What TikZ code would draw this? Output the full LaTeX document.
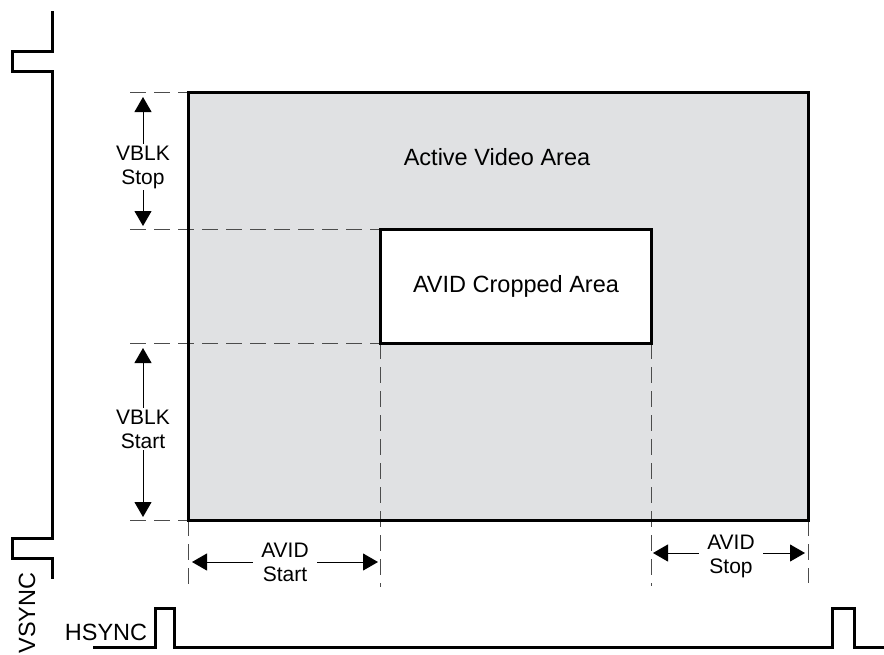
\documentclass[tikz,border=0pt]{standalone}
\usepackage{fontspec}
\setmainfont{Liberation Sans}
\usetikzlibrary{arrows.meta,positioning}
\definecolor{areagray}{RGB}{224,225,227}
\begin{document}
\begin{tikzpicture}[x=0.5pt,y=-0.5pt,
        frame/.style={line width=1.5pt},
        wave/.style={line width=1.5pt},
        extline/.style={black!70,line width=0.5pt,dash pattern=on 8pt off 4pt},
        dimline/.style={line width=0.5pt,{Triangle[length=7.5pt,width=8.5pt]}-{Triangle[length=7.5pt,width=8.5pt]}},
        dimlabel/.style={fill=white,inner xsep=4pt,inner ysep=1pt,align=center,font=\fontsize{10.5}{12}\selectfont},
        arealabel/.style={inner sep=0pt,anchor=base,font=\fontsize{11.75}{14}\selectfont}]
    \useasboundingbox (0,0) rectangle (884,654);

    % corners of the two areas
    \coordinate (av-nw) at (188,92);
    \coordinate (av-ne) at (808,92);
    \coordinate (av-sw) at (188,520);
    \coordinate (av-se) at (808,520);
    \coordinate (cr-nw) at (380,229);
    \coordinate (cr-sw) at (380,343);
    \coordinate (cr-se) at (651,343);

    % free ends of the extension lines
    \coordinate (e1) at (130,92);
    \coordinate (e2) at (130,229);
    \coordinate (e3) at (130,343);
    \coordinate (e4) at (130,520);
    \coordinate (b1) at (188,585);
    \coordinate (b2) at (380,587);
    \coordinate (b3) at (651,586);
    \coordinate (b4) at (808,583);

    % arrow tips
    \coordinate (vs-t) at (143,97);
    \coordinate (vs-b) at (143,226);
    \coordinate (vt-t) at (143,348);
    \coordinate (vt-b) at (143,517);
    \coordinate (as-l) at (192,562);
    \coordinate (as-r) at (378,562);
    \coordinate (ap-l) at (653,553);
    \coordinate (ap-r) at (805,553);

    \fill[areagray] (av-nw) rectangle (av-se);
    \fill[white] (cr-nw) rectangle (cr-se);

    \draw[extline] (e1) -- (av-nw);
    \draw[extline] (e2) -- (cr-nw);
    \draw[extline] (e3) -- (cr-sw);
    \draw[extline] (e4) -- (av-sw);
    \draw[extline] (av-sw) -- (b1);
    \draw[extline] (cr-sw) -- (b2);
    \draw[extline] (cr-se) -- (b3);
    \draw[extline] (av-se) -- (b4);

    \draw[frame] (av-nw) rectangle (av-se);
    \draw[frame] (cr-nw) rectangle (cr-se);

    \node[arealabel] (active) at (497,165) {Active Video Area};
    \node[arealabel] (cropped) at (516,292) {AVID Cropped Area};

    \draw[dimline] (vs-t) -- (vs-b);
    \draw[dimline] (vt-t) -- (vt-b);
    \draw[dimline] (as-l) -- (as-r);
    \draw[dimline] (ap-l) -- (ap-r);
    \node[dimlabel] (vblkstop) at (143,167) {VBLK\\Stop};
    \node[dimlabel] (vblkstart) at (143,429) {VBLK\\Start};
    \node[dimlabel] (avidstart) at (285,562) {AVID\\Start};
    \node[dimlabel] (avidstop) at (731,556) {AVID\\Stop};

    % sync waveforms
    \draw[wave] (52,11) -- (52,51) -- (12,51) -- (12,71) -- (52,71)
        -- (52,538) -- (12,538) -- (12,558) -- (52,558) -- (52,579);
    \draw[wave] (93,647) -- (155,647) -- (155,608) -- (174,608) -- (174,647)
        -- (832,647) -- (832,608) -- (854,608) -- (854,647) -- (884,647);
    \node[arealabel,rotate=90] (vsync) at (35,613) {VSYNC};
    \node[arealabel] (hsync) at (106,640) {HSYNC};
\end{tikzpicture}
\end{document}
